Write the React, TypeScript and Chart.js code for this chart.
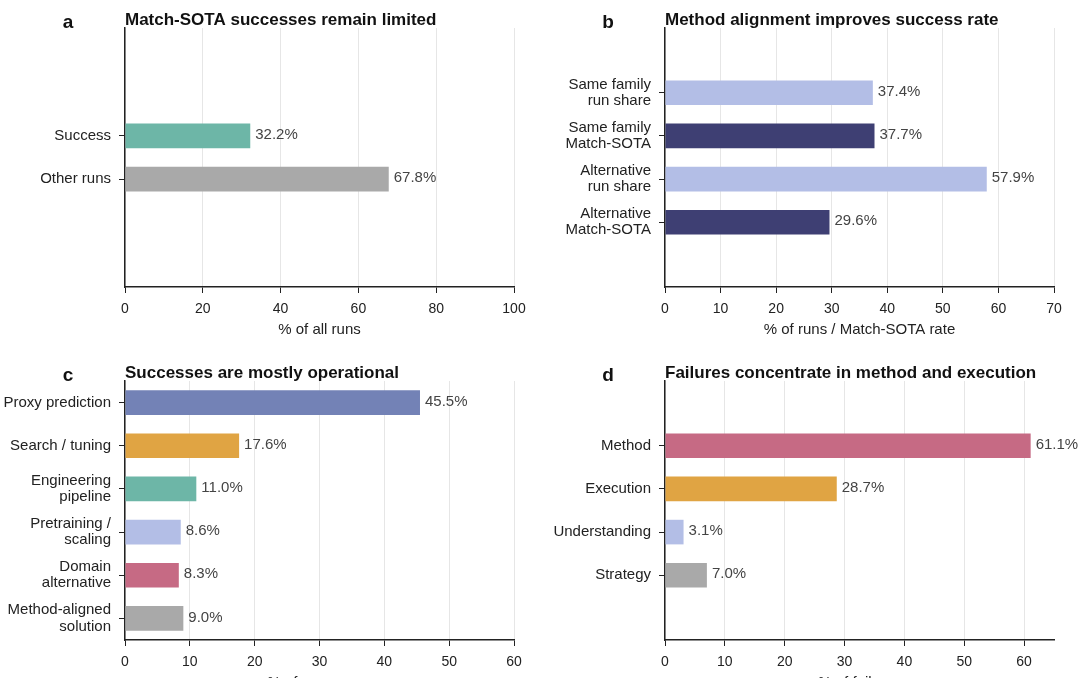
import React, { useEffect, useRef } from 'react';
import { Chart, registerables } from 'chart.js';

Chart.register(...registerables);

const FONT = '"Liberation Sans", Arial, Helvetica, sans-serif';
const SLOTS = 6;

// Colours
const TEAL = '#6db6a7';
const GREY = '#a9a9a9';
const LAVENDER = '#b3bee6';
const NAVY = '#3e3f73';
const PERIWINKLE = '#7382b6';
const ORANGE = '#e0a443';
const PINK = '#c66a84';

// Panel a
const aLabels: (string | string[])[] = ['Success', 'Other runs'];
const aValues = [32.2, 67.8];
const aColors = [TEAL, GREY];

// Panel b
const bLabels: (string | string[])[] = [
  ['Same family', 'run share'],
  ['Same family', 'Match-SOTA'],
  ['Alternative', 'run share'],
  ['Alternative', 'Match-SOTA'],
];
const bValues = [37.4, 37.7, 57.9, 29.6];
const bColors = [LAVENDER, NAVY, LAVENDER, NAVY];

// Panel c
const cLabels: (string | string[])[] = [
  'Proxy prediction',
  'Search / tuning',
  ['Engineering', 'pipeline'],
  ['Pretraining /', 'scaling'],
  ['Domain', 'alternative'],
  ['Method-aligned', 'solution'],
];
const cValues = [45.5, 17.6, 11.0, 8.6, 8.3, 9.0];
const cColors = [PERIWINKLE, ORANGE, TEAL, LAVENDER, PINK, GREY];

// Panel d
const dLabels: (string | string[])[] = ['Method', 'Execution', 'Understanding', 'Strategy'];
const dValues = [61.1, 28.7, 3.1, 7.0];
const dColors = [PINK, ORANGE, LAVENDER, GREY];

const valueLabels = {
  id: 'valueLabels',
  afterDatasetsDraw(chart: any) {
    const ctx = chart.ctx;
    const meta = chart.getDatasetMeta(0);
    const ds = chart.data.datasets[0];
    ctx.save();
    ctx.fillStyle = '#444';
    ctx.font = `15px ${FONT}`;
    ctx.textAlign = 'left';
    ctx.textBaseline = 'middle';
    meta.data.forEach((el: any, i: number) => {
      const v = ds.data[i].x as number;
      ctx.fillText(`${v.toFixed(1)}%`, el.x + 5, el.y - 1);
    });
    ctx.restore();
  },
};

const panelTitle = {
  id: 'panelTitle',
  afterDraw(chart: any, _args: any, opts: any) {
    const ctx = chart.ctx;
    ctx.save();
    ctx.fillStyle = '#111';
    ctx.textBaseline = 'alphabetic';
    ctx.font = `bold 19px ${FONT}`;
    ctx.textAlign = 'center';
    ctx.fillText(opts.letter, 68, 28);
    ctx.font = `bold 17px ${FONT}`;
    ctx.textAlign = 'left';
    ctx.fillText(opts.title, chart.chartArea.left, 25);
    ctx.restore();
  },
};

type PanelProps = {
  letter: string;
  title: string;
  labels: (string | string[])[];
  values: number[];
  colors: string[];
  xMax: number;
  xStep: number;
  xTitle: string;
};

function Panel(p: PanelProps) {
  const ref = useRef<HTMLCanvasElement>(null);
  useEffect(() => {
    const n = p.labels.length;
    const extra = (SLOTS - n) / 2;
    const chart = new Chart(ref.current as HTMLCanvasElement, {
      type: 'bar',
      data: {
        datasets: [
          {
            data: p.values.map((v, i) => ({ x: v, y: i })) as any,
            backgroundColor: p.colors,
            borderWidth: 0,
            categoryPercentage: 1,
            barPercentage: 0.57,
          },
        ],
      },
      options: {
        indexAxis: 'y',
        animation: false,
        responsive: true,
        maintainAspectRatio: false,
        layout: { padding: { top: 28, right: 26, left: 0, bottom: 0 } },
        plugins: {
          legend: { display: false },
          tooltip: { enabled: false },
          title: { display: false },
          panelTitle: { letter: p.letter, title: p.title },
        } as any,
        scales: {
          x: {
            type: 'linear',
            position: 'bottom',
            offset: false,
            min: 0,
            max: p.xMax,
            afterBuildTicks: (s: any) => {
              s.ticks = s.ticks.filter((t: any) => Math.abs(t.value % p.xStep) < 1e-9);
            },
            ticks: {
              stepSize: p.xStep,
              color: '#222',
              font: { family: FONT, size: 14 },
              padding: 8,
              maxRotation: 0,
              autoSkip: false,
            },
            grid: {
              offset: false,
              color: '#e6e6e6',
              lineWidth: 1,
              tickColor: '#222',
              tickLength: 6,
              drawTicks: true,
            },
            border: { color: '#222', width: 1.5 },
            title: {
              display: true,
              text: p.xTitle,
              color: '#222',
              font: { family: FONT, size: 15 },
              padding: { top: 0, bottom: 0 },
            },
            afterFit: (s: any) => {
              s.height = 52;
            },
          },
          y: {
            type: 'linear',
            reverse: true,
            offset: false,
            min: -0.5 - extra,
            max: n - 0.5 + extra,
            afterBuildTicks: (s: any) => {
              s.ticks = p.labels.map((_, i) => ({ value: i }));
            },
            ticks: {
              callback: (v: any) => p.labels[v as number] as any,
              color: '#222',
              font: { family: FONT, size: 15, lineHeight: 1.08 },
              padding: 8,
              autoSkip: false,
            },
            grid: {
              offset: false,
              drawOnChartArea: false,
              tickColor: '#222',
              tickLength: 6,
            },
            border: { color: '#222', width: 1.5 },
            afterFit: (s: any) => {
              s.width = 125;
            },
          },
        } as any,
      },
      plugins: [valueLabels, panelTitle],
    });
    return () => chart.destroy();
  }, []);
  return <canvas ref={ref} />;
}

const panelBox = (left: number, top: number): React.CSSProperties => ({
  position: 'absolute',
  left,
  top,
  width: 540,
  height: 339,
});

export default function App() {
  return (
    <div
      style={{
        position: 'fixed',
        left: 0,
        top: 0,
        width: 1080,
        height: 678,
        overflow: 'hidden',
        background: '#fff',
      }}
    >
      <div style={panelBox(0, 0)}>
        <Panel
          letter="a"
          title="Match-SOTA successes remain limited"
          labels={aLabels}
          values={aValues}
          colors={aColors}
          xMax={100}
          xStep={20}
          xTitle="% of all runs"
        />
      </div>
      <div style={panelBox(540, 0)}>
        <Panel
          letter="b"
          title="Method alignment improves success rate"
          labels={bLabels}
          values={bValues}
          colors={bColors}
          xMax={70}
          xStep={10}
          xTitle="% of runs / Match-SOTA rate"
        />
      </div>
      <div style={panelBox(0, 353)}>
        <Panel
          letter="c"
          title="Successes are mostly operational"
          labels={cLabels}
          values={cValues}
          colors={cColors}
          xMax={60}
          xStep={10}
          xTitle="% of successes"
        />
      </div>
      <div style={panelBox(540, 353)}>
        <Panel
          letter="d"
          title="Failures concentrate in method and execution"
          labels={dLabels}
          values={dValues}
          colors={dColors}
          xMax={65}
          xStep={10}
          xTitle="% of failures"
        />
      </div>
    </div>
  );
}
